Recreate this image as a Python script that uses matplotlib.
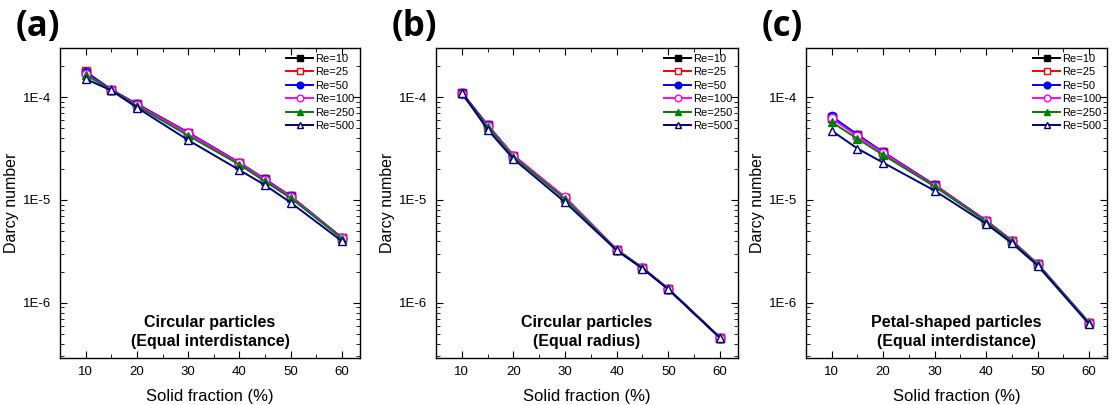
import matplotlib
matplotlib.use("Agg")
import matplotlib.pyplot as plt
import numpy as np
from matplotlib.ticker import LogLocator, MultipleLocator, NullFormatter

# Solid fraction (%) and Darcy numbers
solid_fraction = [10, 15, 20, 30, 40, 45, 50, 60]
reynolds = ["Re=10", "Re=25", "Re=50", "Re=100", "Re=250", "Re=500"]

# (a) circular particles, equal interdistance
da_a = {
    "Re=10":  [1.75e-4, 1.18e-4, 8.5e-5, 4.49e-5, 2.29e-5, 1.58e-5, 1.08e-5, 4.26e-6],
    "Re=25":  [1.78e-4, 1.17e-4, 8.6e-5, 4.52e-5, 2.30e-5, 1.59e-5, 1.08e-5, 4.28e-6],
    "Re=50":  [1.75e-4, 1.18e-4, 8.5e-5, 4.50e-5, 2.29e-5, 1.58e-5, 1.08e-5, 4.26e-6],
    "Re=100": [1.68e-4, 1.17e-4, 8.4e-5, 4.45e-5, 2.28e-5, 1.57e-5, 1.07e-5, 4.25e-6],
    "Re=250": [1.64e-4, 1.17e-4, 8.2e-5, 4.22e-5, 2.20e-5, 1.51e-5, 1.04e-5, 4.20e-6],
    "Re=500": [1.50e-4, 1.16e-4, 7.9e-5, 3.81e-5, 1.95e-5, 1.39e-5, 9.4e-6, 3.96e-6],
}

# (b) circular particles, equal radius
da_b = {
    "Re=10":  [1.10e-4, 5.32e-5, 2.70e-5, 1.05e-5, 3.28e-6, 2.18e-6, 1.36e-6, 4.58e-7],
    "Re=25":  [1.10e-4, 5.30e-5, 2.70e-5, 1.05e-5, 3.28e-6, 2.18e-6, 1.36e-6, 4.58e-7],
    "Re=50":  [1.10e-4, 5.30e-5, 2.68e-5, 1.04e-5, 3.28e-6, 2.18e-6, 1.36e-6, 4.58e-7],
    "Re=100": [1.06e-4, 5.25e-5, 2.70e-5, 1.06e-5, 3.28e-6, 2.18e-6, 1.36e-6, 4.58e-7],
    "Re=250": [1.10e-4, 5.10e-5, 2.62e-5, 1.02e-5, 3.26e-6, 2.17e-6, 1.36e-6, 4.58e-7],
    "Re=500": [1.10e-4, 4.83e-5, 2.50e-5, 9.5e-6, 3.22e-6, 2.15e-6, 1.35e-6, 4.56e-7],
}

# (c) petal-shaped particles, equal interdistance
da_c = {
    "Re=10":  [6.3e-5, 4.26e-5, 2.89e-5, 1.39e-5, 6.27e-6, 4.00e-6, 2.38e-6, 6.4e-7],
    "Re=25":  [6.4e-5, 4.30e-5, 2.92e-5, 1.40e-5, 6.30e-6, 4.02e-6, 2.39e-6, 6.4e-7],
    "Re=50":  [6.5e-5, 4.30e-5, 2.90e-5, 1.39e-5, 6.27e-6, 4.00e-6, 2.38e-6, 6.4e-7],
    "Re=100": [6.2e-5, 4.16e-5, 2.86e-5, 1.38e-5, 6.25e-6, 3.99e-6, 2.38e-6, 6.4e-7],
    "Re=250": [5.7e-5, 3.93e-5, 2.73e-5, 1.35e-5, 6.15e-6, 3.95e-6, 2.36e-6, 6.35e-7],
    "Re=500": [4.7e-5, 3.16e-5, 2.30e-5, 1.23e-5, 5.86e-6, 3.80e-6, 2.30e-6, 6.2e-7],
}

panel_letters = ["(a)", "(b)", "(c)"]
panel_notes = ["Circular particles\n(Equal interdistance)",
               "Circular particles\n(Equal radius)",
               "Petal-shaped particles\n(Equal interdistance)"]
panel_data = [da_a, da_b, da_c]

styles = {
    "Re=10":  dict(color="black", marker="s", mfc="black", mec="black"),
    "Re=25":  dict(color="red", marker="s", mfc="white", mec="red"),
    "Re=50":  dict(color="blue", marker="o", mfc="blue", mec="blue"),
    "Re=100": dict(color="magenta", marker="o", mfc="white", mec="magenta"),
    "Re=250": dict(color="green", marker="^", mfc="green", mec="green"),
    "Re=500": dict(color="navy", marker="^", mfc="white", mec="navy"),
}

plt.rcParams["font.family"] = ["Liberation Sans", "DejaVu Sans"]

fig = plt.figure(figsize=(11.16, 4.05), dpi=100)
W, H = 1116, 405
boxes = [(60, 360), (436, 738), (806, 1107)]
top, bottom = 48, 358

for i, (l, r) in enumerate(boxes):
    ax = fig.add_axes([l / W, 1 - bottom / H, (r - l) / W, (bottom - top) / H])
    data = panel_data[i]
    for re in reynolds:
        ax.plot(solid_fraction, data[re], lw=1.4, ms=6, mew=1.0,
                label=re, **styles[re])
    ax.set_yscale("log")
    ax.set_xlim(5, 63.5)
    ax.set_ylim(2.9e-7, 3.0e-4)
    ax.set_xticks([10, 20, 30, 40, 50, 60])
    ax.xaxis.set_minor_locator(MultipleLocator(5))
    ax.set_yticks([1e-6, 1e-5, 1e-4])
    ax.set_yticklabels(["1E-6", "1E-5", "1E-4"])
    ax.yaxis.set_minor_locator(LogLocator(base=10, subs=np.arange(2, 10)))
    ax.yaxis.set_minor_formatter(NullFormatter())
    ax.tick_params(which="both", direction="in", top=True, right=True,
                   labelsize=9.5, pad=6)
    ax.tick_params(which="major", length=5, width=0.8)
    ax.tick_params(which="minor", length=3, width=0.6)
    for s in ax.spines.values():
        s.set_linewidth(1.0)
    ax.set_xlabel("Solid fraction (%)", fontsize=12, labelpad=8)
    ax.set_ylabel("Darcy number", fontsize=11.5)
    ax.yaxis.set_label_coords(-41 / (r - l), 0.5)
    ax.text(0.5, 0.03, panel_notes[i], transform=ax.transAxes, ha="center",
            va="bottom", fontsize=11.5, fontweight="bold", linespacing=1.3)
    ax.legend(loc="upper right", frameon=False, fontsize=8, handlelength=2.4,
              handletextpad=0.2, labelspacing=0.32, borderaxespad=0.0,
              borderpad=0.5, markerscale=0.8, bbox_to_anchor=(1.0, 1.0))
    fig.text((l - 44) / W, 1 - 9 / H, panel_letters[i], fontsize=25,
             fontweight="bold", va="top", ha="left",
             family=["Open Sans", "Noto Sans", "DejaVu Sans"])

fig.savefig("out.png", dpi=100)
